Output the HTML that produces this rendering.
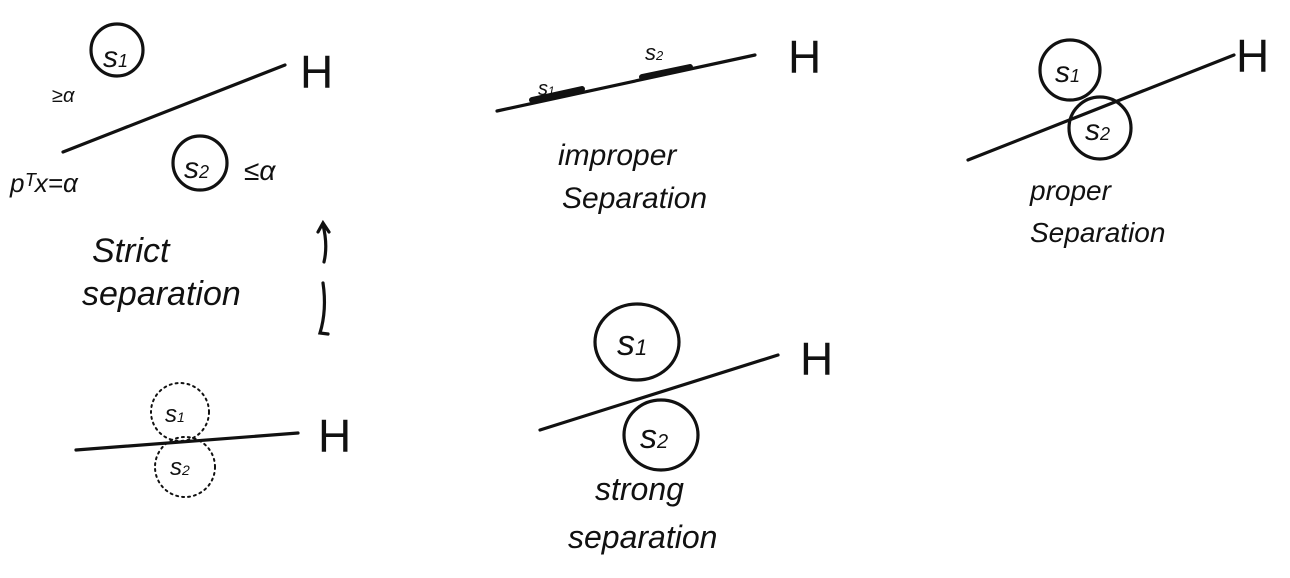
<!DOCTYPE html>
<html><head><meta charset="utf-8"><style>
html,body{margin:0;padding:0;background:#fff;width:1290px;height:578px;overflow:hidden}
svg{display:block}
text{font-family:"Liberation Sans",sans-serif;fill:#111}
.hw{font-style:italic}
.up{font-style:normal;font-weight:300}
</style></head><body>
<svg width="1290" height="578" viewBox="0 0 1290 578">
<g stroke="#111" stroke-width="3.2" fill="none" stroke-linecap="round">
<g>
<line x1="63" y1="152" x2="285" y2="65"/>
<circle cx="117" cy="50" r="26"/>
<circle cx="200" cy="163" r="27"/>
<path d="M324 262 Q328 245 323 225 M318 232 L323 223 L329 232"/>
<path d="M323 283 Q327 310 320 333 L328 334"/>
</g>
<g>
<line x1="76" y1="450" x2="298" y2="433"/>
<circle cx="180" cy="412" r="29" stroke-width="2" stroke-dasharray="2 4"/>
<circle cx="185" cy="467" r="30" stroke-width="2" stroke-dasharray="2 4"/>
</g>
<g>
<line x1="497" y1="111" x2="755" y2="55"/>
<line x1="532" y1="100" x2="582" y2="89" stroke-width="6"/>
<line x1="642" y1="77" x2="690" y2="67" stroke-width="6"/>
</g>
<g>
<line x1="968" y1="160" x2="1234" y2="55"/>
<circle cx="1070" cy="70" r="30"/>
<circle cx="1100" cy="128" r="31"/>
</g>
<g>
<line x1="540" y1="430" x2="778" y2="355"/>
<ellipse cx="637" cy="342" rx="42" ry="38"/>
<ellipse cx="661" cy="435" rx="37" ry="35"/>
</g>
</g>
<g class="hw">
<text x="103" y="67" font-size="30">s<tspan font-size="18">1</tspan></text>
<text x="52" y="102" font-size="20">≥α</text>
<text x="300" y="88" font-size="46" class="up">H</text>
<text x="10" y="192" font-size="26">pᵀx=α</text>
<text x="184" y="178" font-size="30">s<tspan font-size="18">2</tspan></text>
<text x="244" y="180" font-size="28">≤α</text>
<text x="92" y="262" font-size="34">Strict</text>
<text x="82" y="305" font-size="34">separation</text>
<text x="165" y="422" font-size="24">s<tspan font-size="14">1</tspan></text>
<text x="170" y="475" font-size="24">s<tspan font-size="14">2</tspan></text>
<text x="318" y="452" font-size="46" class="up">H</text>
<text x="538" y="95" font-size="20">s<tspan font-size="12">1</tspan></text>
<text x="645" y="60" font-size="22">s<tspan font-size="13">2</tspan></text>
<text x="788" y="73" font-size="46" class="up">H</text>
<text x="558" y="165" font-size="30">improper</text>
<text x="562" y="208" font-size="30">Separation</text>
<text x="1055" y="82" font-size="30">s<tspan font-size="18">1</tspan></text>
<text x="1085" y="140" font-size="30">s<tspan font-size="18">2</tspan></text>
<text x="1236" y="72" font-size="46" class="up">H</text>
<text x="1030" y="200" font-size="28">proper</text>
<text x="1030" y="242" font-size="28">Separation</text>
<text x="617" y="355" font-size="36">s<tspan font-size="22">1</tspan></text>
<text x="640" y="448" font-size="34">s<tspan font-size="20">2</tspan></text>
<text x="800" y="375" font-size="46" class="up">H</text>
<text x="595" y="500" font-size="32">strong</text>
<text x="568" y="548" font-size="32">separation</text>
</g>
</svg>
</body></html>
